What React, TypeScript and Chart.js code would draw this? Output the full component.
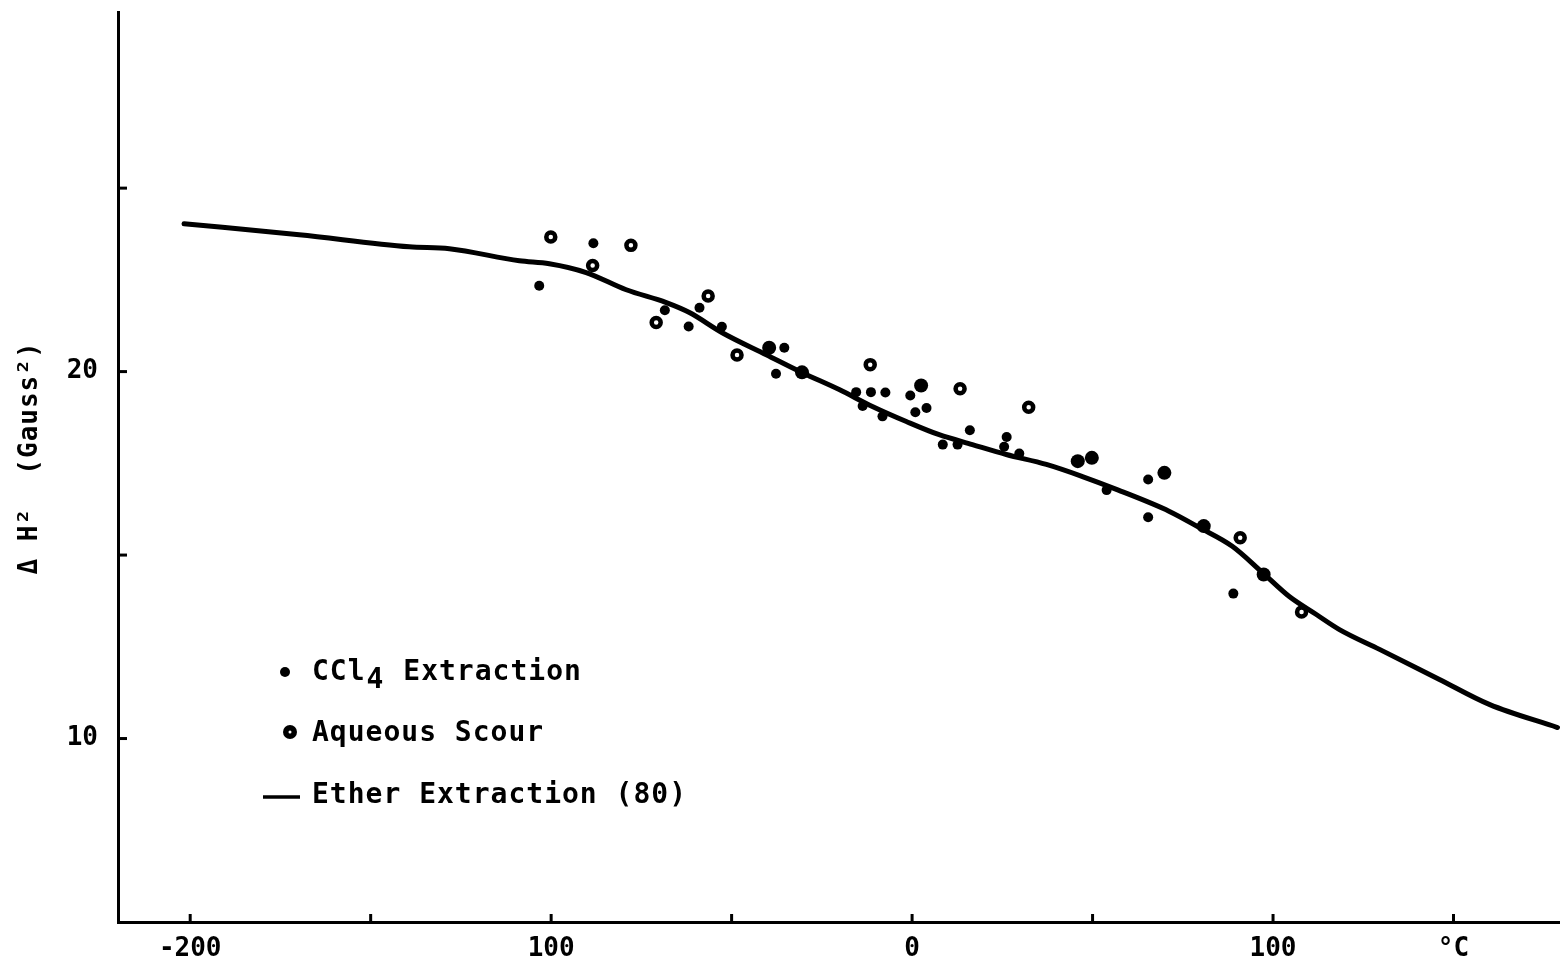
import React, { useEffect, useRef } from "react";
import { Chart, registerables } from "chart.js";

Chart.register(...registerables);

// Axis ticks
const xTickValues = [-200, -150, -100, -50, 0, 50, 100, 150];
const xTickLabels = ["-200", "", "100", "", "0", "", "100", "°C"];
const yTickValues = [10, 15, 20, 25];
const yTickLabels = ["10", "", "20", ""];

// Ether Extraction (80) curve
const etherX = [-201.7, -169.8, -139.3, -128.2, -108.8, -100.5, -90.3, -79.2, -68.1, -61.7, -52.6, -40.4, -30.4, -20.2, -11.0, -1.6, 7.5, 16.7, 26.1, 37.2, 47.2, 56.6, 71.3, 79.6, 88.7, 97.0, 104.5, 112.0, 118.4, 129.5, 146.1, 159.9, 178.8];
const etherY = [24.03, 23.73, 23.40, 23.35, 23.02, 22.94, 22.70, 22.23, 21.88, 21.61, 21.06, 20.46, 19.97, 19.51, 19.05, 18.64, 18.28, 18.01, 17.74, 17.47, 17.14, 16.79, 16.19, 15.75, 15.24, 14.53, 13.87, 13.38, 12.97, 12.43, 11.61, 10.93, 10.30];

// CCl4 Extraction (small filled dots)
const ccl4X = [-103.3, -88.3, -68.5, -58.9, -61.9, -52.7, -35.4, -37.7, -15.5, -11.4, -7.4, -13.7, -8.2, -0.5, 0.9, 4.0, 16.0, 8.5, 12.6, 26.2, 25.5, 29.7, 53.9, 65.4, 65.4, 89.0];
const ccl4Y = [22.34, 23.50, 21.67, 21.74, 21.23, 21.22, 20.65, 19.94, 19.44, 19.44, 19.43, 19.06, 18.78, 19.35, 18.89, 19.01, 18.40, 18.01, 18.01, 18.22, 17.95, 17.77, 16.77, 17.06, 16.03, 13.95];

// Aqueous Scour (ringed points)
const aqueousRingX = [-100.1, -88.5, -77.9, -70.9, -56.5, -48.5, -11.6, 13.3, 32.3, 90.9, 107.9];
const aqueousRingY = [23.67, 22.89, 23.44, 21.34, 22.06, 20.45, 20.19, 19.53, 19.03, 15.47, 13.45];

// Aqueous Scour (heavy filled points)
const aqueousSolidX = [-39.6, -30.5, 2.5, 45.9, 49.8, 69.9, 80.8, 97.4];
const aqueousSolidY = [20.65, 19.98, 19.62, 17.56, 17.65, 17.24, 15.79, 14.47];

const FONT = '"DejaVu Sans Mono", "Liberation Mono", monospace';

const pts = (xs: number[], ys: number[]) => xs.map((x, i) => ({ x, y: ys[i] }));

const decorPlugin = {
  id: "decor",
  afterDraw(chart: any) {
    const ctx = chart.ctx as CanvasRenderingContext2D;
    const xs = chart.scales.x;
    const ys = chart.scales.y;
    const area = chart.chartArea;
    ctx.save();
    ctx.strokeStyle = "#000";
    ctx.fillStyle = "#000";
    ctx.lineWidth = 3;
    // inward tick marks
    for (const v of xTickValues) {
      const px = xs.getPixelForValue(v);
      ctx.beginPath();
      ctx.moveTo(px, area.bottom);
      ctx.lineTo(px, area.bottom - 8);
      ctx.stroke();
    }
    for (const v of yTickValues) {
      const py = ys.getPixelForValue(v);
      ctx.beginPath();
      ctx.moveTo(area.left, py);
      ctx.lineTo(area.left + 9, py);
      ctx.stroke();
    }

    // Y axis title
    (ctx as any).letterSpacing = "1px";
    ctx.font = `bold 26px ${FONT}`;
    ctx.textBaseline = "middle";
    ctx.textAlign = "center";
    ctx.save();
    ctx.translate(30, 458);
    ctx.rotate(-Math.PI / 2);
    ctx.fillText("Δ H²  (Gauss²)", 0, 0);
    ctx.restore();

    // Legend
    ctx.font = `bold 28px ${FONT}`;
    ctx.textAlign = "left";
    const tx = 312;
    // CCl4
    ctx.beginPath();
    ctx.arc(285, 672, 5, 0, Math.PI * 2);
    ctx.fill();
    let cx = tx;
    ctx.fillText("CCl", cx, 673);
    cx += ctx.measureText("CCl").width + 1;
    ctx.fillText("4", cx, 681);
    cx += ctx.measureText("4").width + 1;
    ctx.fillText(" Extraction", cx, 673);
    // Aqueous Scour
    ctx.beginPath();
    ctx.arc(290, 732, 7, 0, Math.PI * 2);
    ctx.fill();
    ctx.fillStyle = "#fff";
    ctx.beginPath();
    ctx.arc(290, 732, 1.5, 0, Math.PI * 2);
    ctx.fill();
    ctx.fillStyle = "#000";
    ctx.fillText("Aqueous Scour", tx, 734);
    // Ether
    ctx.lineWidth = 3.5;
    ctx.beginPath();
    ctx.moveTo(263, 797);
    ctx.lineTo(300, 797);
    ctx.stroke();
    ctx.fillText("Ether Extraction (80)", tx, 796);
    ctx.restore();
  },
};

export default function App() {
  const ref = useRef<HTMLCanvasElement | null>(null);
  useEffect(() => {
    if (!ref.current) return;
    const tickFont = { family: FONT, size: 26, weight: "bold" as const };
    const chart = new Chart(ref.current, {
      type: "scatter",
      data: {
        datasets: [
          {
            label: "Ether Extraction (80)",
            data: pts(etherX, etherY),
            showLine: true,
            borderColor: "#000",
            backgroundColor: "#000",
            borderWidth: 5,
            pointRadius: 0,
            cubicInterpolationMode: "monotone",
            borderCapStyle: "round",
            order: 5,
          } as any,
          {
            label: "CCl4 Extraction",
            data: pts(ccl4X, ccl4Y),
            pointRadius: 5,
            backgroundColor: "#000",
            borderColor: "#000",
            borderWidth: 0,
            order: 2,
          },
          {
            label: "Aqueous Scour",
            data: pts(aqueousSolidX, aqueousSolidY),
            pointRadius: 7,
            backgroundColor: "#000",
            borderColor: "#000",
            borderWidth: 0,
            order: 3,
          },
          {
            label: "Aqueous Scour (ring)",
            data: pts(aqueousRingX, aqueousRingY),
            pointRadius: 4.5,
            backgroundColor: "#fff",
            borderColor: "#000",
            borderWidth: 4.5,
            order: 1,
          },
        ],
      },
      options: {
        animation: false,
        responsive: false,
        devicePixelRatio: 1,
        layout: { autoPadding: false, padding: { top: 12, right: 0, left: 0, bottom: 0 } },
        plugins: { legend: { display: false }, tooltip: { enabled: false } },
        scales: {
          x: {
            type: "linear",
            min: -220,
            max: 179.5,
            afterBuildTicks: (s: any) => {
              s.ticks = xTickValues.map((v) => ({ value: v }));
            },
            afterFit: (s: any) => {
              s.height = 47;
              s.paddingLeft = 0;
              s.paddingRight = 0;
              s.paddingTop = 0;
              s.paddingBottom = 0;
            },
            grid: { display: false, drawTicks: false },
            border: { display: true, color: "#000", width: 3 },
            ticks: {
              autoSkip: false,
              maxRotation: 0,
              padding: 12,
              color: "#000",
              font: tickFont,
              callback: (v: any) => {
                const i = xTickValues.indexOf(Number(v));
                return i >= 0 ? xTickLabels[i] : "";
              },
            },
          },
          y: {
            type: "linear",
            min: 5,
            max: 29.8,
            afterBuildTicks: (s: any) => {
              s.ticks = yTickValues.map((v) => ({ value: v }));
            },
            afterFit: (s: any) => {
              s.width = 118;
              s.paddingLeft = 0;
              s.paddingRight = 0;
              s.paddingTop = 0;
              s.paddingBottom = 0;
            },
            grid: { display: false, drawTicks: false },
            border: { display: true, color: "#000", width: 3 },
            ticks: {
              autoSkip: false,
              padding: 20,
              color: "#000",
              font: tickFont,
              callback: (v: any) => {
                const i = yTickValues.indexOf(Number(v));
                return i >= 0 ? yTickLabels[i] : "";
              },
            },
          },
        },
      },
      plugins: [decorPlugin],
    });
    return () => chart.destroy();
  }, []);
  return (
    <div style={{ position: "fixed", left: 0, top: 0, width: 1560, height: 969, background: "#fff" }}>
      <canvas ref={ref} width={1560} height={969} style={{ display: "block" }} />
    </div>
  );
}
